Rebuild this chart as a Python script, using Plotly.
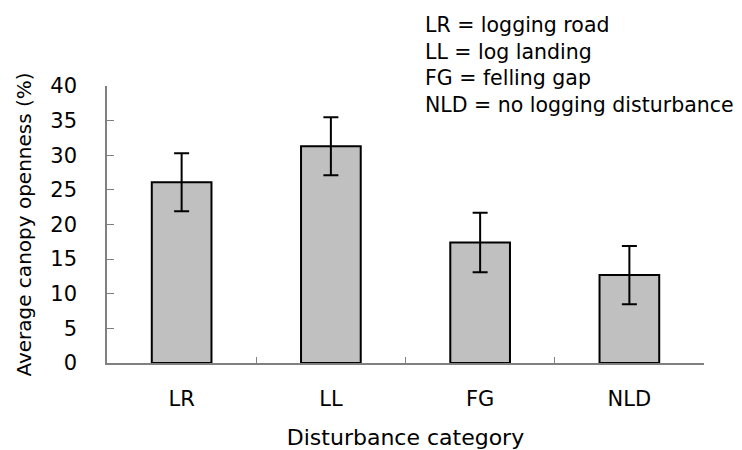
import plotly.graph_objects as go

categories = ["LR", "LL", "FG", "NLD"]
means = [26.1, 31.3, 17.4, 12.7]
errors = [4.2, 4.2, 4.3, 4.2]
y_ticks = [0, 5, 10, 15, 20, 25, 30, 35, 40]
legend_lines = ["LR = logging road", "LL = log landing", "FG = felling gap",
                "NLD = no logging disturbance"]

font = "DejaVu Sans, Arial, sans-serif"
W, H = 734, 442
L, R, T, B = 99, 37.5, 78, 87
PW, PH = W - L - R, H - T - B

fig = go.Figure(go.Bar(
    x=categories, y=means, width=0.4,
    marker=dict(color="#C0C0C0", line=dict(color="#000000", width=2)),
    error_y=dict(type="data", array=errors, visible=True, color="#000000",
                 thickness=2, width=7.5),
))

fig.update_layout(
    width=W, height=H,
    margin=dict(l=L, r=R, t=T, b=B, autoexpand=False),
    plot_bgcolor="white", paper_bgcolor="white",
    showlegend=False,
    font=dict(family=font, size=21, color="#000000"),
    xaxis=dict(
        range=[-0.5, 3.5], showline=True, linecolor="#808080", linewidth=1.5,
        ticks="inside", tickson="boundaries", ticklen=6, tickcolor="#808080",
        showgrid=False, ticklabelstandoff=16, automargin=False,
        title=dict(text="Disturbance category", font=dict(size=22), standoff=20),
    ),
    yaxis=dict(
        range=[0, 40], tickvals=y_ticks, showline=True, linecolor="#808080",
        linewidth=1.5, ticks="inside", ticklen=7, tickcolor="#808080",
        showgrid=False, zeroline=False, ticklabelstandoff=24, automargin=False,
        title=dict(text="Average canopy openness (%)", font=dict(size=20), standoff=13),
    ),
    annotations=[dict(
        text="<br>".join(legend_lines), xref="paper", yref="paper",
        x=(415 - L) / PW, y=1 + (T + 2 - 5) / PH,
        xanchor="left", yanchor="top", align="left", showarrow=False,
        font=dict(size=20.5, family=font, color="#000000"),
    )],
)

fig.write_html("out.html")
